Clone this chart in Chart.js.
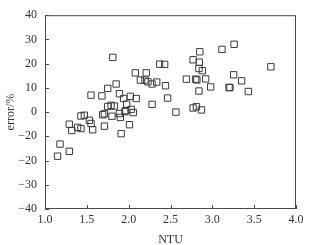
<!DOCTYPE html>
<html lang="en">
<head>
  <meta charset="UTF-8" />
  <title>error vs NTU</title>
  <script src="https://cdn.jsdelivr.net/npm/chart.js"></script>
  <style>
    html, body { margin: 0; padding: 0; background: #fff; }
    #wrap { width: 313px; height: 245px; }
  </style>
</head>
<body>
  <div id="wrap"><canvas id="scatter" width="313" height="245"></canvas></div>

  <script>
    // values
    const ntu = [
      1.15, 1.18, 1.29, 1.29, 1.32, 1.39, 1.43, 1.43, 1.47, 1.53,
      1.55, 1.57, 1.55, 1.68, 1.69, 1.71, 1.71, 1.75, 1.75, 1.79,
      1.83, 1.80, 1.81, 1.85, 1.89, 1.89, 1.90, 1.91, 1.956, 1.94,
      2.02, 2.09, 1.976, 2.01, 2.055, 2.03, 1.965, 2.08, 2.14, 2.195,
      2.23, 2.21, 2.28, 2.335, 2.28, 2.37, 2.43, 2.44, 2.465, 2.565,
      2.69, 2.80, 2.815, 2.92, 2.77, 2.845, 2.85, 2.84, 2.88, 2.84,
      2.98, 2.77, 2.81, 2.87, 3.115, 3.26, 3.20, 3.21, 3.255, 3.35,
      3.43, 3.70
    ];
    const error = [
      -18.2, -13.2, -16.2, -5.0, -7.6, -6.3, -6.8, -1.6, -1.3, -3.4,
      -4.7, -7.3, 7.0, 6.7, -1.1, -0.7, -5.8, 9.8, 2.3, 2.8,
      2.5, -1.7, 22.6, 11.6, 7.6, -0.6, -2.2, -8.9, 0.2, 5.6,
      6.5, 5.6, 3.3, -5.2, -0.2, 1.1, 0.6, 16.2, 13.2, 13.2,
      12.5, 16.2, 11.6, 12.4, 3.2, 19.8, 19.7, 10.9, 5.8, 0.0,
      13.6, 13.6, 13.3, 13.7, 21.6, 20.6, 24.9, 18.0, 17.1, 8.7,
      10.4, 1.7, 2.2, 0.9, 25.9, 28.0, 10.2, 10.1, 15.4, 12.9,
      8.5, 18.7
    ];

    const xTicks = [1.0, 1.5, 2.0, 2.5, 3.0, 3.5, 4.0];
    const yTickValues = [-40, -30, -20, -10, 0, 10, 20, 30, 40];
    // the original figure prints "-20" at the -10 position
    const yTickLabels = ['−40', '−30', '−20', '−20', '0', '10', '20', '30', '40'];

    const points = ntu.map((v, i) => ({ x: v, y: error[i] }));
    const serif = "'Liberation Serif', 'DejaVu Serif', serif";

    // box round the plot plus short inward ticks
    const framePlugin = {
      id: 'frame',
      afterDraw(chart) {
        const { ctx, chartArea: a, scales: { x, y } } = chart;
        ctx.save();
        ctx.strokeStyle = '#4a4a4a';
        ctx.lineWidth = 1;
        ctx.strokeRect(a.left + 0.5, a.top + 0.5, a.right - a.left - 1, a.bottom - a.top - 1);
        ctx.beginPath();
        xTicks.forEach(v => {
          const px = Math.round(x.getPixelForValue(v)) + 0.5;
          ctx.moveTo(px, a.bottom);
          ctx.lineTo(px, a.bottom - 4);
        });
        yTickValues.forEach(v => {
          const py = Math.round(y.getPixelForValue(v)) + 0.5;
          ctx.moveTo(a.left, py);
          ctx.lineTo(a.left + 4, py);
        });
        ctx.stroke();
        ctx.restore();
      }
    };

    const ctx = document.getElementById('scatter').getContext('2d');
    new Chart(ctx, {
      type: 'scatter',
      data: {
        datasets: [{
          label: 'error',
          data: points,
          pointStyle: 'rect',
          pointRadius: 4.5,
          pointHoverRadius: 4.5,
          borderColor: '#3a3a3a',
          backgroundColor: 'rgba(0,0,0,0)',
          borderWidth: 1
        }]
      },
      options: {
        responsive: false,
        animation: false,
        layout: { padding: { top: 11, right: 17, left: 0, bottom: 0 } },
        plugins: {
          legend: { display: false },
          tooltip: { enabled: false }
        },
        scales: {
          x: {
            type: 'linear',
            min: 1,
            max: 4,
            afterFit: s => { s.height = 36; },
            grid: { display: false, drawTicks: false },
            border: { display: false },
            ticks: {
              stepSize: 0.5,
              padding: 4,
              color: '#333',
              font: { family: serif, size: 12 },
              callback: v => Number(v).toFixed(1)
            },
            title: {
              display: true,
              text: 'NTU',
              color: '#333',
              font: { family: serif, size: 12 },
              padding: { top: 0, bottom: -2 }
            }
          },
          y: {
            type: 'linear',
            min: -40,
            max: 40,
            afterFit: s => { s.width = 45; },
            grid: { display: false, drawTicks: false },
            border: { display: false },
            ticks: {
              stepSize: 10,
              padding: 8,
              color: '#333',
              font: { family: serif, size: 12 },
              callback: v => {
                const i = yTickValues.indexOf(v);
                return i >= 0 ? yTickLabels[i] : '';
              }
            },
            title: {
              display: true,
              text: 'error/%',
              color: '#333',
              font: { family: serif, size: 12 },
              padding: { top: 4, bottom: 0 }
            }
          }
        }
      },
      plugins: [framePlugin]
    });
  </script>
</body>
</html>
